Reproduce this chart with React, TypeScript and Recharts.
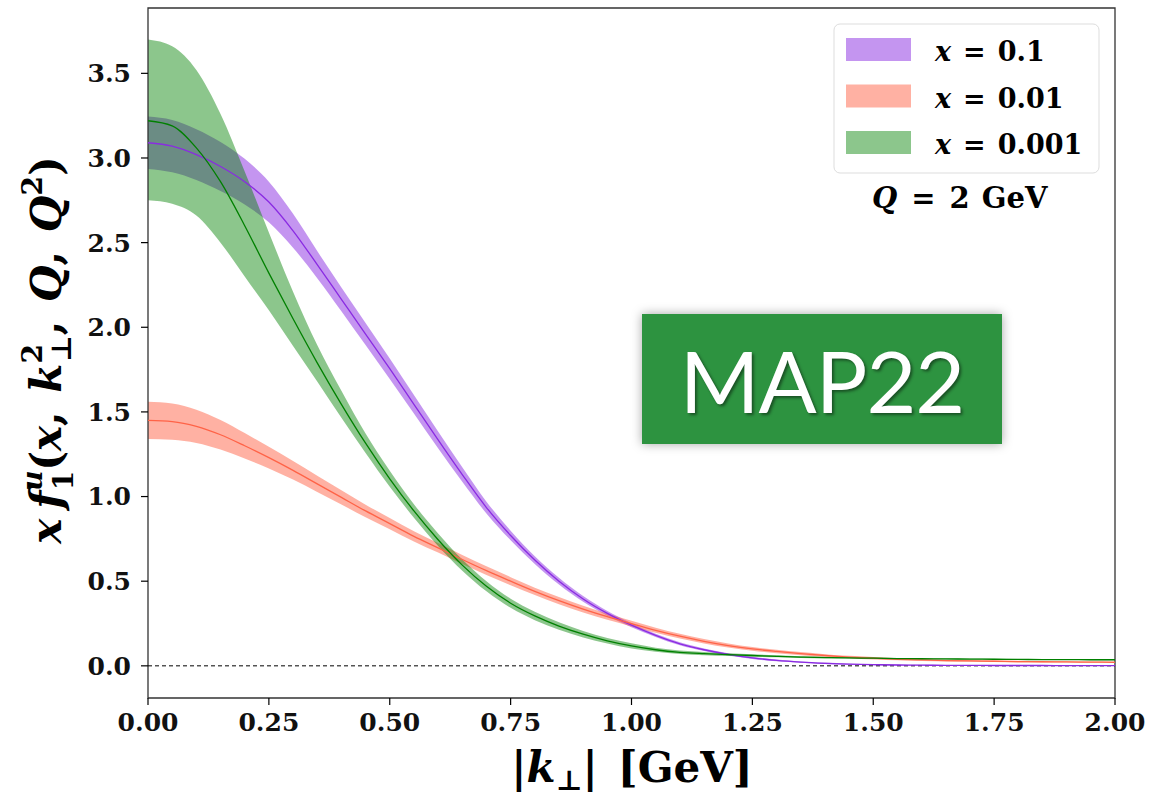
import React from "react";
import {
  ComposedChart,
  Area,
  Line,
  XAxis,
  YAxis,
  ReferenceLine,
  ReferenceArea,
} from "recharts";

// |k_T| grid [GeV]
const kT = [
  0, 0.05, 0.1, 0.15, 0.2, 0.25, 0.3, 0.35, 0.4, 0.45, 0.5, 0.55, 0.6, 0.65, 0.7, 0.75, 0.8, 0.85, 0.9, 0.95,
  1.0, 1.05, 1.1, 1.15, 1.2, 1.25, 1.3, 1.35, 1.4, 1.45, 1.5, 1.55, 1.6, 1.65, 1.7, 1.75, 1.8, 1.85, 1.9, 1.95, 2.0,
];

// x = 0.1
const x01Mid = [
  3.09, 3.07, 3.02, 2.95, 2.86, 2.74, 2.57, 2.37, 2.165, 1.96, 1.755, 1.545, 1.335, 1.13, 0.935, 0.77, 0.625, 0.5, 0.395, 0.31,
  0.24, 0.18, 0.13, 0.095, 0.068, 0.047, 0.032, 0.022, 0.015, 0.01, 0.007, 0.005, 0.004, 0.003, 0.003, 0.002, 0.002, 0.002, 0.001, 0.001, 0.001,
];
const x01Lo = [
  2.935, 2.915, 2.87, 2.805, 2.725, 2.62, 2.47, 2.29, 2.095, 1.895, 1.695, 1.49, 1.285, 1.087, 0.9, 0.742, 0.602, 0.48, 0.378, 0.296,
  0.228, 0.17, 0.121, 0.087, 0.061, 0.041, 0.027, 0.018, 0.011, 0.007, 0.004, 0.002, 0.002, 0.001, 0.001, 0, 0, 0, 0, 0, 0,
];
const x01Hi = [
  3.245, 3.225, 3.17, 3.095, 2.995, 2.86, 2.67, 2.45, 2.235, 2.025, 1.815, 1.6, 1.385, 1.173, 0.97, 0.798, 0.648, 0.52, 0.412, 0.324,
  0.252, 0.19, 0.139, 0.103, 0.075, 0.053, 0.037, 0.026, 0.019, 0.013, 0.01, 0.008, 0.006, 0.005, 0.005, 0.004, 0.004, 0.004, 0.003, 0.003, 0.003,
];

// x = 0.01
const x001Mid = [
  1.45, 1.443, 1.415, 1.365, 1.3, 1.23, 1.155, 1.075, 0.995, 0.915, 0.84, 0.765, 0.697, 0.628, 0.562, 0.5, 0.44, 0.385, 0.335, 0.29,
  0.25, 0.21, 0.175, 0.145, 0.12, 0.1, 0.085, 0.072, 0.061, 0.052, 0.045, 0.039, 0.035, 0.031, 0.029, 0.027, 0.025, 0.024, 0.023, 0.022, 0.021,
];
const x001Lo = [
  1.34, 1.336, 1.317, 1.278, 1.225, 1.166, 1.1, 1.027, 0.953, 0.878, 0.807, 0.735, 0.669, 0.601, 0.536, 0.476, 0.418, 0.364, 0.315, 0.272,
  0.233, 0.195, 0.161, 0.132, 0.108, 0.089, 0.075, 0.063, 0.053, 0.045, 0.038, 0.033, 0.029, 0.026, 0.024, 0.022, 0.02, 0.02, 0.019, 0.018, 0.017,
];
const x001Hi = [
  1.56, 1.55, 1.513, 1.452, 1.375, 1.294, 1.21, 1.123, 1.037, 0.952, 0.873, 0.795, 0.725, 0.655, 0.588, 0.524, 0.462, 0.406, 0.355, 0.308,
  0.267, 0.225, 0.189, 0.158, 0.132, 0.111, 0.095, 0.081, 0.069, 0.059, 0.052, 0.045, 0.041, 0.036, 0.034, 0.032, 0.03, 0.028, 0.027, 0.026, 0.025,
];

// x = 0.001
const x0001Mid = [
  3.22, 3.19, 3.06, 2.86, 2.6, 2.32, 2.05, 1.79, 1.545, 1.315, 1.105, 0.915, 0.745, 0.595, 0.47, 0.37, 0.295, 0.235, 0.187, 0.148,
  0.118, 0.095, 0.08, 0.072, 0.066, 0.061, 0.056, 0.052, 0.049, 0.047, 0.045, 0.043, 0.042, 0.041, 0.04, 0.039, 0.038, 0.037, 0.037, 0.036, 0.036,
];
const x0001Lo = [
  2.75, 2.73, 2.66, 2.5, 2.3, 2.1, 1.89, 1.68, 1.465, 1.258, 1.058, 0.875, 0.708, 0.562, 0.44, 0.343, 0.27, 0.213, 0.168, 0.132,
  0.103, 0.083, 0.07, 0.063, 0.058, 0.054, 0.05, 0.047, 0.045, 0.043, 0.041, 0.04, 0.039, 0.038, 0.037, 0.036, 0.035, 0.034, 0.034, 0.033, 0.033,
];
const x0001Hi = [
  3.7, 3.66, 3.52, 3.26, 2.92, 2.56, 2.21, 1.895, 1.625, 1.372, 1.152, 0.955, 0.782, 0.628, 0.5, 0.397, 0.32, 0.257, 0.206, 0.164,
  0.133, 0.107, 0.09, 0.081, 0.074, 0.068, 0.062, 0.057, 0.053, 0.051, 0.049, 0.046, 0.045, 0.044, 0.043, 0.042, 0.041, 0.04, 0.04, 0.039, 0.039,
];

const xTicks = [0, 0.25, 0.5, 0.75, 1.0, 1.25, 1.5, 1.75, 2.0];
const yTicks = [0, 0.5, 1.0, 1.5, 2.0, 2.5, 3.0, 3.5];
const legendLabels = ["0.1", "0.01", "0.001"];

const PURPLE = "#8a2be2";
const RED = "#ff6347";
const GREEN = "#008000";

const data = kT.map((k, i) => ({
  k,
  p: x01Mid[i],
  pBand: [x01Lo[i], x01Hi[i]],
  r: x001Mid[i],
  rBand: [x001Lo[i], x001Hi[i]],
  g: x0001Mid[i],
  gBand: [x0001Lo[i], x0001Hi[i]],
}));

const Y_MIN = -0.19;
const Y_MAX = 3.886;

const tickStyle = {
  fill: "#111",
  fontSize: 25,
  fontFamily: "DejaVu Serif",
  fontWeight: "bold" as const,
};

const mathFont = "DejaVu Serif";

export default function App() {
  const legendColors = [
    { c: PURPLE, o: 0.5 },
    { c: RED, o: 0.5 },
    { c: GREEN, o: 0.45 },
  ];

  return (
    <div style={{ position: "absolute", left: 0, top: 0, width: 1154, height: 802, background: "#fff" }}>
      <ComposedChart width={1154} height={802} data={data} margin={{ top: 8, right: 39, bottom: 0, left: 0 }}>
        <XAxis
          dataKey="k"
          type="number"
          domain={[0, 2]}
          ticks={xTicks}
          allowDataOverflow
          tickFormatter={(v: number) => v.toFixed(2)}
          height={104}
          tickSize={7}
          tickMargin={8}
          axisLine={false}
          tickLine={{ stroke: "#000", strokeWidth: 1.2 }}
          tick={tickStyle}
          interval={0}
        />
        <YAxis
          type="number"
          domain={[Y_MIN, Y_MAX]}
          ticks={yTicks}
          allowDataOverflow
          tickFormatter={(v: number) => v.toFixed(1)}
          width={148}
          tickSize={7}
          tickMargin={10}
          axisLine={false}
          tickLine={{ stroke: "#000", strokeWidth: 1.2 }}
          tick={tickStyle}
          interval={0}
        />
        <ReferenceLine y={0} stroke="#000" strokeWidth={1} strokeDasharray="4 3" />

        <Area dataKey="pBand" type="monotone" stroke="none" fill={PURPLE} fillOpacity={0.5} isAnimationActive={false} />
        <Line dataKey="p" type="monotone" stroke={PURPLE} strokeWidth={1.3} dot={false} isAnimationActive={false} />

        <Area dataKey="rBand" type="monotone" stroke="none" fill={RED} fillOpacity={0.5} isAnimationActive={false} />
        <Line dataKey="r" type="monotone" stroke={RED} strokeWidth={1.3} dot={false} isAnimationActive={false} />

        <Area dataKey="gBand" type="monotone" stroke="none" fill={GREEN} fillOpacity={0.45} isAnimationActive={false} />
        <Line dataKey="g" type="monotone" stroke={GREEN} strokeWidth={1.3} dot={false} isAnimationActive={false} />

        <ReferenceArea x1={0} x2={2} y1={Y_MIN} y2={Y_MAX} fill="none" stroke="#333" strokeWidth={1.3} />
      </ComposedChart>

      <svg
        width={1154}
        height={802}
        style={{ position: "absolute", left: 0, top: 0, pointerEvents: "none" }}
      >
        {/* legend */}
        <rect x={834} y={24} width={265} height={149} rx={6} fill="#fff" fillOpacity={0.8} stroke="#ddd" strokeWidth={1} />
        {legendLabels.map((lab, i) => (
          <g key={lab}>
            <rect x={846} y={38 + i * 46.5} width={65} height={23} fill={legendColors[i].c} fillOpacity={legendColors[i].o} />
            <text x={935} y={61 + i * 46.5} fontFamily={mathFont} fontWeight="bold" fontSize={27} fill="#000">
              <tspan fontStyle="italic">x</tspan>
              <tspan dx={12}>=</tspan>
              <tspan dx={12}>{lab}</tspan>
            </text>
          </g>
        ))}
        <text x={872} y={208} fontFamily={mathFont} fontWeight="bold" fontSize={29} fill="#000">
          <tspan fontStyle="italic">Q</tspan>
          <tspan dx={14}>=</tspan>
          <tspan dx={14}>2</tspan>
          <tspan dx={12}>GeV</tspan>
        </text>

        {/* y label */}
        <text
          transform="translate(61,350) rotate(-90)"
          textAnchor="middle"
          fontFamily={mathFont}
          fontWeight="bold"
          fontSize={42}
          fill="#000"
        >
          <tspan fontStyle="italic">x</tspan>
          <tspan fontStyle="italic" dx={10}>f</tspan>
          <tspan fontStyle="italic" fontSize={28} dy={-19}>u</tspan>
          <tspan fontSize={28} dx={-20} dy={31}>1</tspan>
          <tspan dy={-12}>(</tspan>
          <tspan fontStyle="italic">x</tspan>
          <tspan>, </tspan>
          <tspan fontStyle="italic" dx={4}>k</tspan>
          <tspan fontSize={28} dy={-19}>2</tspan>
          <tspan fontSize={28} dx={-18} dy={29}>⊥</tspan>
          <tspan dy={-10}>, </tspan>
          <tspan fontStyle="italic" dx={4}>Q</tspan>
          <tspan>, </tspan>
          <tspan fontStyle="italic" dx={4}>Q</tspan>
          <tspan fontSize={28} dy={-19}>2</tspan>
          <tspan dy={19}>)</tspan>
        </text>

        {/* x label */}
        <text x={632} y={782} textAnchor="middle" fontFamily={mathFont} fontWeight="bold" fontSize={42} fill="#000">
          <tspan>|</tspan>
          <tspan fontStyle="italic">k</tspan>
          <tspan fontSize={28} dy={8}>⊥</tspan>
          <tspan dy={-8}>|</tspan>
          <tspan dx={20}>[GeV]</tspan>
        </text>
      </svg>

      <div
        style={{
          position: "absolute",
          left: 642,
          top: 314,
          width: 360,
          height: 130,
          background: "#2d9340",
          boxShadow: "0 0 10px rgba(0,0,0,0.35)",
          display: "flex",
          alignItems: "center",
          justifyContent: "center",
          color: "#fff",
          fontFamily: "Lato",
          fontSize: 86,
          letterSpacing: -1,
          textShadow: "2px 2px 3px rgba(0,0,0,0.45)",
        }}
      >
        MAP22
      </div>
    </div>
  );
}
